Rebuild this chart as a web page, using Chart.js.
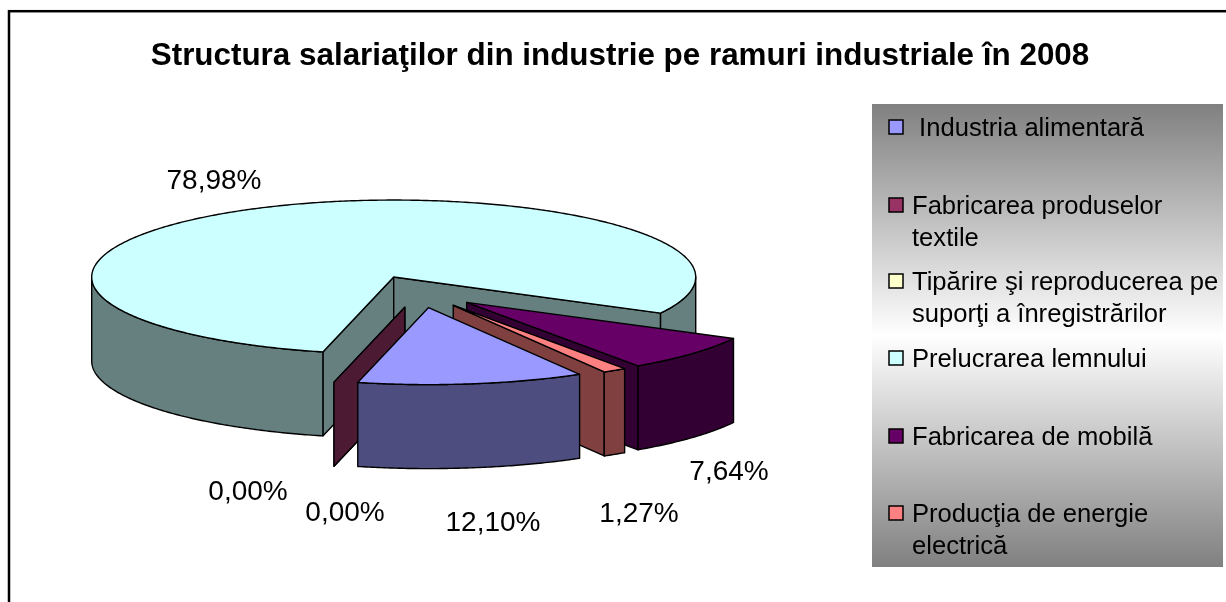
<!DOCTYPE html>
<html><head><meta charset="utf-8">
<style>html,body{margin:0;padding:0;background:#fff}#w{width:1226px;height:602px}canvas{display:block}</style>
<script src="https://cdn.jsdelivr.net/npm/chart.js@4"></script>
</head><body><div id="w"><canvas id="c" width="1226" height="602"></canvas></div>
<script>
const titleText = 'Structura salariaţilor din industrie pe ramuri industriale în 2008';
const categories = [[' Industria alimentară'], ['Fabricarea produselor', 'textile'], ['Tipărire şi reproducerea pe', 'suporţi a înregistrărilor'], ['Prelucrarea lemnului'], ['Fabricarea de mobilă'], ['Producţia de energie', 'electrică']];
const values = [12.10, 0.00, 0.00, 78.98, 7.64, 1.27];
const colors = ['#9999FF', '#993366', '#FFFFCC', '#CCFFFF', '#660066', '#FF8080'];
const sideColors = ['#4D4D80', '#4D1A33', '#808066', '#668080', '#330033', '#804040'];
const drawOrder = [3, 2, 1, 4, 5, 0];
const labelAnchors = [[214, 181], [729, 472], [639, 514], [493, 523], [345, 513], [248, 492]];
const labelOrder = [3, 4, 5, 0, 2, 1];
const legendRows = [127, 205, 281, 358, 436, 513];

const pieView = {x: 419.6, y: 291.7, squash: 0.255, depth: 84, explode: 63};
const legendBox = {x: 872, y: 104, w: 351, h: 463};

function project(arc, a, r, lift) {
  const ex = (arc.startAngle + arc.endAngle) / 2;
  const px = Math.cos(ex) * pieView.explode + Math.cos(a) * r;
  const py = Math.sin(ex) * pieView.explode + Math.sin(a) * r;
  return [pieView.x + px, pieView.y + py * pieView.squash + lift];
}
function poly(ctx, pts, fill) {
  ctx.beginPath();
  pts.forEach((p, i) => i ? ctx.lineTo(p[0], p[1]) : ctx.moveTo(p[0], p[1]));
  ctx.closePath();
  if (fill) { ctx.fillStyle = fill; ctx.fill(); }
  ctx.stroke();
}
function arcPoints(arc, a0, a1, lift) {
  const n = Math.max(2, Math.ceil(Math.abs(a1 - a0) / 0.01));
  const out = [];
  for (let i = 0; i <= n; i++) out.push(project(arc, a0 + (a1 - a0) * i / n, arc.outerRadius, lift));
  return out;
}
const pie3d = {
  id: 'pie3d',
  beforeDraw(chart) {
    const ctx = chart.ctx;
    ctx.save();
    ctx.fillStyle = '#fff';
    ctx.fillRect(0, 0, chart.width, chart.height);
    ctx.strokeStyle = '#000';
    ctx.lineWidth = 2.5;
    ctx.strokeRect(9, 11.2, chart.width + 10, chart.height + 10);
    ctx.restore();
  },
  beforeDatasetsDraw(chart) {
    const ctx = chart.ctx, arcs = chart.getDatasetMeta(0).data, d = pieView.depth;
    ctx.save();
    ctx.lineWidth = 1.4;
    ctx.lineJoin = 'round';
    ctx.strokeStyle = '#000';
    drawOrder.forEach(i => {
      const arc = arcs[i], s = arc.startAngle, e = arc.endAngle, side = sideColors[i];
      const apex = project(arc, s, 0, 0), apexB = project(arc, s, 0, d);
      if (Math.cos(s) < 0 || e === s) {
        const o = project(arc, s, arc.outerRadius, 0), oB = project(arc, s, arc.outerRadius, d);
        poly(ctx, [apex, o, oB, apexB], side);
      }
      if (Math.cos(e) > 0 && e !== s) {
        const o = project(arc, e, arc.outerRadius, 0), oB = project(arc, e, arc.outerRadius, d);
        poly(ctx, [apex, o, oB, apexB], side);
      }
      for (let k = -1; k <= 3; k++) {
        const a0 = Math.max(s, k * 2 * Math.PI), a1 = Math.min(e, k * 2 * Math.PI + Math.PI);
        if (a1 > a0) poly(ctx, arcPoints(arc, a0, a1, 0).concat(arcPoints(arc, a1, a0, d)), side);
      }
      ctx.save();
      const ex = (s + e) / 2;
      ctx.translate(pieView.x + Math.cos(ex) * pieView.explode, pieView.y + Math.sin(ex) * pieView.explode * pieView.squash);
      ctx.scale(1, pieView.squash);
      ctx.translate(-arc.x, -arc.y);
      arc.draw(ctx);
      ctx.restore();
      if (e !== s) poly(ctx, [apex].concat(arcPoints(arc, s, e, 0)));
    });
    ctx.restore();
    return false;
  },
  afterDraw(chart) {
    const ctx = chart.ctx, b = legendBox;
    ctx.save();
    const g = ctx.createLinearGradient(0, b.y, 0, b.y + b.h);
    g.addColorStop(0, '#808080'); g.addColorStop(0.5, '#ffffff'); g.addColorStop(1, '#808080');
    ctx.fillStyle = g;
    ctx.fillRect(b.x, b.y, b.w, b.h);
    ctx.textBaseline = 'middle';
    ctx.textAlign = 'left';
    ctx.font = '25.6px "Liberation Sans"';
    chart.data.labels.forEach((lab, i) => {
      const y = legendRows[i];
      ctx.fillStyle = colors[i];
      ctx.strokeStyle = '#000';
      ctx.lineWidth = 1.5;
      ctx.fillRect(889, y - 7, 14, 14);
      ctx.strokeRect(889, y - 7, 14, 14);
      ctx.fillStyle = '#000';
      lab.forEach((t, j) => ctx.fillText(t, 912, y + 1.5 + j * 32));
    });
    ctx.font = '28px "Liberation Sans"';
    ctx.textAlign = 'center';
    labelOrder.forEach((idx, n) => {
      ctx.fillText(values[idx].toFixed(2).replace('.', ',') + '%', labelAnchors[n][0], labelAnchors[n][1]);
    });
    ctx.restore();
  }
};
new Chart(document.getElementById('c'), {
  type: 'pie',
  data: {labels: categories, datasets: [{data: values, backgroundColor: colors, borderWidth: 0, radius: 302}]},
  options: {
    responsive: false, animation: false, rotation: 150,
    layout: {padding: {left: 14}},
    plugins: {
      legend: {display: false}, tooltip: {enabled: false},
      title: {display: true, text: titleText, color: '#000', align: 'center', padding: {top: 38, bottom: 10},
        font: {family: '"Liberation Sans"', size: 31.4, weight: 'bold'}}
    }
  },
  plugins: [pie3d]
});
</script></body></html>
